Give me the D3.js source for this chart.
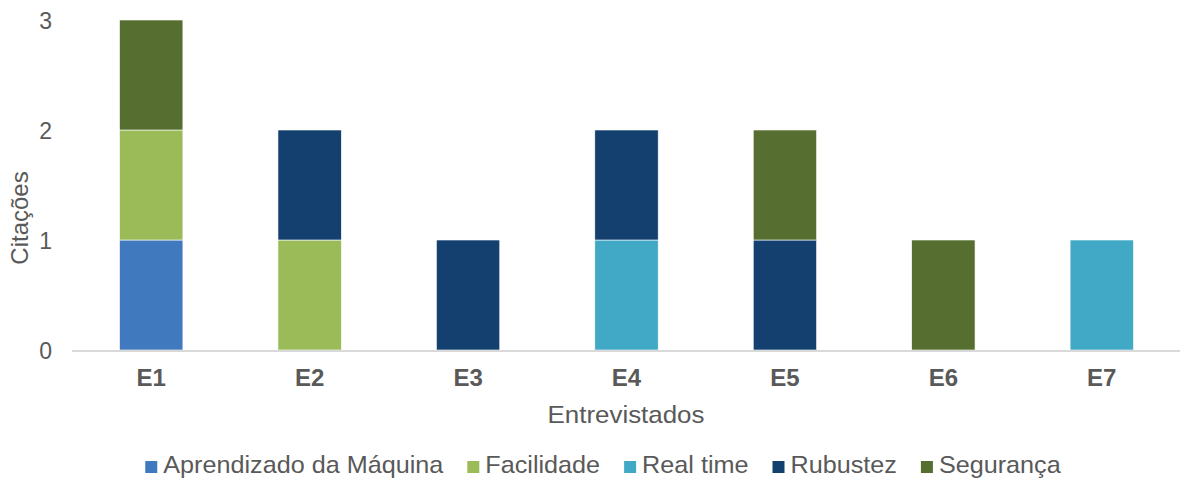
<!DOCTYPE html>
<html>
<head>
<meta charset="utf-8">
<script src="https://cdn.jsdelivr.net/npm/d3@7"></script>
<style>
  body { margin: 0; background: #fff; }
  text { font-family: "Liberation Sans", Arial, sans-serif; fill: #595959; }
</style>
</head>
<body>
<svg id="chart" width="1180" height="479"></svg>
<script>
// categories and series
var entrevistados = ['E1', 'E2', 'E3', 'E4', 'E5', 'E6', 'E7']
var series = ['Aprendizado da Máquina', 'Facilidade', 'Real time', 'Rubustez', 'Segurança']
var colors = ['#4079BD', '#9BBB59', '#41A8C5', '#144070', '#566F30']

// citations per interviewee, one array per series
var aprendizado = [1, 0, 0, 0, 0, 0, 0]
var facilidade  = [1, 1, 0, 0, 0, 0, 0]
var realTime    = [0, 0, 0, 1, 0, 0, 1]
var rubustez    = [0, 1, 1, 1, 1, 0, 0]
var seguranca   = [1, 0, 0, 0, 1, 1, 0]
var yTicks = [0, 1, 2, 3]

var values = [aprendizado, facilidade, realTime, rubustez, seguranca]
var rows = entrevistados.map(function (e, i) {
  var r = { cat: e }
  series.forEach(function (s, j) { r[s] = values[j][i] })
  return r
})

var svg = d3.select('#chart')
var x = d3.scaleBand().domain(entrevistados).range([72, 1181]).paddingInner(0.6).paddingOuter(0.3)
var y = d3.scaleLinear().domain([0, 3]).range([350, 20])
var color = d3.scaleOrdinal().domain(series).range(colors)

var stacked = d3.stack().keys(series)(rows)

svg.append('g')
  .selectAll('g')
  .data(stacked)
  .join('g')
  .attr('fill', function (d) { return color(d.key) })
  .selectAll('rect')
  .data(function (d) { return d.filter(function (p) { return p[1] > p[0] }) })
  .join('rect')
  .attr('x', function (d) { return x(d.data.cat) })
  .attr('y', function (d) { return y(d[1]) })
  .attr('width', x.bandwidth())
  .attr('height', function (d) { return y(d[0]) - y(d[1]) })
  .attr('stroke', '#fff')
  .attr('stroke-width', 0.6)

// x axis
var xAxis = svg.append('g')
  .attr('transform', 'translate(0,' + y(0) + ')')
  .call(d3.axisBottom(x).tickSize(0).tickPadding(0))
xAxis.select('.domain').attr('stroke', '#D9D9D9').attr('stroke-width', 2).attr('d', 'M72,1H1180')
xAxis.selectAll('text')
  .attr('y', 36).attr('dy', 0)
  .style('font-size', '24px').style('font-weight', 'bold')
  .style('fill', '#595959')
  .attr('font-family', null)

// y axis
var yAxis = svg.append('g')
  .attr('transform', 'translate(52,0)')
  .call(d3.axisLeft(y).tickValues(yTicks).tickFormat(d3.format('d')).tickSize(0).tickPadding(0))
yAxis.select('.domain').remove()
yAxis.selectAll('text')
  .attr('dy', '0.36em')
  .style('font-size', '23px')
  .attr('font-family', null)

// axis titles
svg.append('text')
  .attr('transform', 'translate(28,218) rotate(-90)')
  .attr('text-anchor', 'middle')
  .style('font-size', '24px')
  .text('Citações')

svg.append('text')
  .attr('transform', 'translate(626,423) scale(1.08,1)')
  .attr('text-anchor', 'middle')
  .style('font-size', '24px')
  .text('Entrevistados')

// legend
var legend = svg.append('g')
var lx = 0
var sx = 1.05
series.forEach(function (s) {
  var item = legend.append('g').attr('transform', 'translate(' + lx + ',0)')
  item.append('rect')
    .attr('x', 0).attr('y', -12).attr('width', 12).attr('height', 12)
    .attr('fill', color(s))
  var t = item.append('text')
    .attr('x', 18 / sx).attr('y', 0)
    .attr('transform', 'scale(' + sx + ',1)')
    .style('font-size', '24px')
    .text(s)
  lx += 18 + t.node().getComputedTextLength() * sx + 24
})
var totalW = lx - 24
legend.attr('transform', 'translate(' + (603 - totalW / 2) + ',473)')
</script>
</body>
</html>
